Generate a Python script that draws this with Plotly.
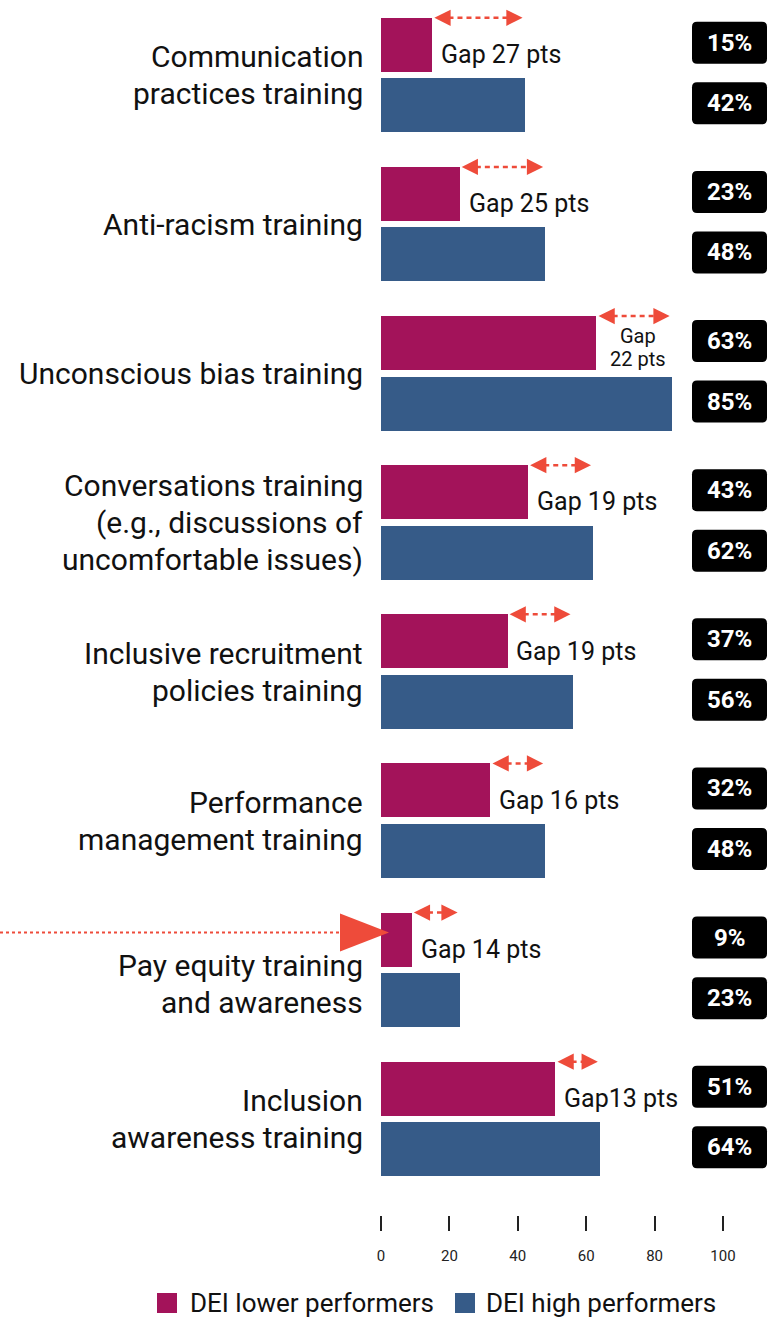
import plotly.graph_objects as go

# ---------------- data ----------------
categories = [
    "Communication<br>practices training",
    "Anti-racism training",
    "Unconscious bias training",
    "Conversations training<br>(e.g., discussions of<br>uncomfortable issues)",
    "Inclusive recruitment<br>policies training",
    "Performance<br>management training",
    "Pay equity training<br>and awareness",
    "Inclusion<br>awareness training",
]
lower_performers = [15, 23, 63, 43, 37, 32, 9, 51]
high_performers = [42, 48, 85, 62, 56, 48, 23, 64]
gap_labels = ["Gap 27 pts", "Gap 25 pts", "Gap<br>22 pts", "Gap 19 pts",
              "Gap 19 pts", "Gap 16 pts", "Gap 14 pts", "Gap13 pts"]
x_ticks = [0, 20, 40, 60, 80, 100]
series_names = ["DEI lower performers", "DEI high performers"]

# ---------------- style ----------------
MAGENTA = "#A3135A"
BLUE = "#365B88"
RED = "#EE4B3A"
FONT = "Roboto"

W, H = 768, 1317
ML, MR, MT, MB = 381, 0, 0, 102
PW, PH = W - ML - MR, H - MT - MB
X_MAX = PW / 3.42
Y_TOP, Y_BOT = -0.503, -0.503 + PH / 149.14
OFF = 0.203
BW = 0.362


def pxx(px):  # pixel x -> paper
    return (px - ML) / PW


def pxy(py):  # pixel y -> paper
    return (MT + PH - py) / PH


def y2paper(y):
    return (Y_BOT - y) / (Y_BOT - Y_TOP)


n = len(categories)
y_low = [i - OFF for i in range(n)]
y_high = [i + OFF for i in range(n)]

fig = go.Figure()
fig.add_trace(go.Bar(x=lower_performers, y=y_low, orientation="h", width=BW,
                     marker=dict(color=MAGENTA, line=dict(width=0)),
                     name=series_names[0], showlegend=False, hoverinfo="x"))
fig.add_trace(go.Bar(x=high_performers, y=y_high, orientation="h", width=BW,
                     marker=dict(color=BLUE, line=dict(width=0)),
                     name=series_names[1], showlegend=False, hoverinfo="x"))

annotations = []
shapes = []


def multiline(text, x, y, xref, yref, size, spacing, xanchor, color, yshift0=0):
    lines = text.split("<br>")
    k = len(lines)
    for j, ln in enumerate(lines):
        off = (j - (k - 1) / 2) * spacing
        annotations.append(dict(
            x=x, y=y, xref=xref, yref=yref, text=ln, showarrow=False,
            xanchor=xanchor, yanchor="middle", yshift=yshift0 - off,
            font=dict(family=FONT, size=size, color=color)))


# gap arrows
for i in range(n):
    ya = y_low[i] - BW / 2
    lo, hi = lower_performers[i] + 0.6, high_performers[i] - 0.6
    fig.add_trace(go.Scatter(
        x=[lo + 1.5, hi - 1.5], y=[ya, ya], mode="lines",
        line=dict(color=RED, width=2.5, dash="5px,4px"),
        showlegend=False, hoverinfo="skip", cliponaxis=False))
    for tip, ax in ((lo, 11), (hi, -11)):
        annotations.append(dict(
            x=tip, y=ya, xref="x", yref="y", text="", showarrow=True,
            ax=ax, ay=0, arrowhead=2, arrowsize=1.3, arrowwidth=2.5,
            arrowcolor=RED, standoff=0, startstandoff=0))
    if i == 2:
        multiline(gap_labels[i], (lower_performers[i] + high_performers[i]) / 2 + 1,
                  y_low[i], "x", "y", 20, 23, "center", "#111", yshift0=-4)
    else:
        annotations.append(dict(
            x=lower_performers[i] + 2.0, y=y_low[i] + 0.065,
            xref="x", yref="y", text=gap_labels[i], showarrow=False,
            xanchor="left", yanchor="middle",
            font=dict(family=FONT, size=25, color="#111")))

# category labels
for i, c in enumerate(categories):
    dy = 0.095 if i == 6 else 0.0
    multiline(c, pxx(365), i + dy, "paper", "y", 30, 37, "right", "#111")

# value badges
bx0, bx1 = (692 - ML) / 3.42, (767 - ML) / 3.42
rx, ry = 5 / 3.42, 5 / 149.14
bh = 21 / 149.14
shift = 2 / 149.14
for vals, ys in ((lower_performers, y_low), (high_performers, y_high)):
    for v, yc in zip(vals, ys):
        yc2 = yc - shift
        y0, y1 = yc2 - bh, yc2 + bh
        path = (f"M{bx0+rx},{y0} L{bx1-rx},{y0} Q{bx1},{y0} {bx1},{y0+ry} "
                f"L{bx1},{y1-ry} Q{bx1},{y1} {bx1-rx},{y1} L{bx0+rx},{y1} "
                f"Q{bx0},{y1} {bx0},{y1-ry} L{bx0},{y0+ry} Q{bx0},{y0} {bx0+rx},{y0} Z")
        shapes.append(dict(type="path", path=path, xref="x", yref="y",
                           fillcolor="#000", line=dict(width=0), layer="above"))
        annotations.append(dict(
            x=(bx0 + bx1) / 2, y=yc2, xref="x", yref="y", text=f"<b>{v}%</b>",
            showarrow=False, xanchor="center", yanchor="middle",
            font=dict(family=FONT, size=24, color="#fff")))

# big pointer arrow at pay equity
ypay = y2paper(y_low[6] - 7 / 149.14)
shapes.append(dict(type="line", xref="paper", yref="paper",
                   x0=pxx(0), x1=pxx(345), y0=ypay, y1=ypay,
                   line=dict(color=RED, width=2, dash="dot")))
tri_h = 19 / PH
shapes.append(dict(type="path", xref="paper", yref="paper",
                   path=(f"M{pxx(340)},{ypay + tri_h} L{pxx(389)},{ypay} "
                         f"L{pxx(340)},{ypay - tri_h} Z"),
                   fillcolor=RED, line=dict(width=0), layer="above"))

# custom legend
leg_items = [(series_names[0], MAGENTA, 157, 188), (series_names[1], BLUE, 455, 484)]
for name, col, sx, tx in leg_items:
    shapes.append(dict(type="rect", xref="paper", yref="paper",
                       x0=pxx(sx), x1=pxx(sx + 20), y0=pxy(1293), y1=pxy(1313),
                       fillcolor=col, line=dict(width=0)))
    annotations.append(dict(x=pxx(tx), y=pxy(1303), xref="paper", yref="paper",
                            text=name, showarrow=False, xanchor="left",
                            yanchor="middle",
                            font=dict(family=FONT, size=26, color="#111")))

fig.update_layout(
    width=W, height=H,
    margin=dict(l=ML, r=MR, t=MT, b=MB, pad=0),
    paper_bgcolor="white", plot_bgcolor="white",
    barmode="overlay", bargap=0,
    showlegend=False,
    annotations=annotations, shapes=shapes,
    font=dict(family=FONT),
    xaxis=dict(range=[0, X_MAX], tickvals=x_ticks, ticks="outside", ticklen=15,
               tickwidth=2, tickcolor="#222", showgrid=False, zeroline=False,
               showline=False, ticklabelstandoff=12,
               tickfont=dict(family=FONT, size=15, color="#222"), fixedrange=True),
    yaxis=dict(range=[Y_BOT, Y_TOP], showticklabels=False, showgrid=False,
               zeroline=False, showline=False, ticks="", fixedrange=True),
)

fig.write_html("out.html", config={"displayModeBar": False},
               post_script="document.body.style.margin='0px';")
